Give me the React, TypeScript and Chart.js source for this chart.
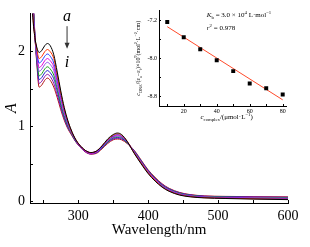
import { useEffect, useRef } from 'react';
import { Chart, registerables } from 'chart.js';

Chart.register(...registerables);

const SERIF = '"Liberation Serif", "Times New Roman", serif';

// ---------- main spectra ----------
const wavelengths = [232, 235, 238, 241, 244, 248, 252, 256, 260, 265, 270, 275, 280, 285, 290, 296, 302, 310, 318, 326, 334, 342, 350, 356, 362, 370, 380, 390, 400, 410, 420, 430, 445, 460, 480, 510, 550, 600];

const absA = [3.00, 2.45, 2.18, 2.04, 1.98, 2.01, 2.07, 2.10, 2.07, 1.95, 1.72, 1.47, 1.25, 1.08, 0.95, 0.83, 0.75, 0.68, 0.65, 0.67, 0.74, 0.83, 0.89, 0.91, 0.89, 0.80, 0.64, 0.50, 0.37, 0.27, 0.19, 0.135, 0.085, 0.062, 0.048, 0.040, 0.032, 0.025];
const absB = [3.07, 2.50, 2.18, 2.01, 1.90, 1.93, 1.99, 2.02, 1.99, 1.90, 1.68, 1.44, 1.23, 1.07, 0.94, 0.83, 0.75, 0.68, 0.65, 0.67, 0.74, 0.82, 0.88, 0.90, 0.88, 0.80, 0.645, 0.51, 0.38, 0.28, 0.195, 0.14, 0.09, 0.066, 0.051, 0.044, 0.036, 0.030];
const absC = [3.15, 2.55, 2.19, 1.98, 1.84, 1.87, 1.93, 1.96, 1.93, 1.84, 1.64, 1.41, 1.21, 1.05, 0.94, 0.82, 0.75, 0.68, 0.65, 0.67, 0.73, 0.81, 0.87, 0.89, 0.87, 0.79, 0.65, 0.51, 0.38, 0.28, 0.20, 0.145, 0.094, 0.070, 0.055, 0.047, 0.040, 0.034];
const absD = [3.22, 2.60, 2.19, 1.95, 1.78, 1.81, 1.87, 1.90, 1.87, 1.79, 1.59, 1.38, 1.19, 1.04, 0.93, 0.82, 0.74, 0.67, 0.64, 0.66, 0.73, 0.81, 0.86, 0.88, 0.86, 0.79, 0.655, 0.52, 0.39, 0.29, 0.205, 0.15, 0.098, 0.073, 0.058, 0.051, 0.044, 0.039];
const absE = [3.30, 2.65, 2.20, 1.92, 1.73, 1.76, 1.82, 1.85, 1.82, 1.74, 1.55, 1.35, 1.17, 1.03, 0.92, 0.82, 0.74, 0.67, 0.64, 0.66, 0.72, 0.80, 0.86, 0.87, 0.86, 0.79, 0.66, 0.525, 0.395, 0.295, 0.21, 0.155, 0.102, 0.077, 0.061, 0.054, 0.048, 0.044];
const absF = [3.37, 2.70, 2.20, 1.89, 1.67, 1.70, 1.76, 1.79, 1.76, 1.68, 1.51, 1.31, 1.14, 1.01, 0.91, 0.81, 0.74, 0.67, 0.64, 0.66, 0.72, 0.79, 0.85, 0.86, 0.85, 0.78, 0.665, 0.53, 0.40, 0.30, 0.215, 0.16, 0.107, 0.081, 0.065, 0.058, 0.052, 0.048];
const absG = [3.45, 2.75, 2.21, 1.86, 1.62, 1.65, 1.71, 1.74, 1.71, 1.63, 1.47, 1.28, 1.12, 1.00, 0.91, 0.81, 0.74, 0.67, 0.64, 0.65, 0.71, 0.79, 0.84, 0.85, 0.84, 0.78, 0.67, 0.54, 0.41, 0.31, 0.22, 0.165, 0.111, 0.085, 0.068, 0.061, 0.056, 0.053];
const absH = [3.52, 2.80, 2.21, 1.83, 1.57, 1.60, 1.66, 1.69, 1.66, 1.57, 1.42, 1.25, 1.10, 0.98, 0.90, 0.80, 0.73, 0.66, 0.63, 0.65, 0.71, 0.78, 0.83, 0.84, 0.83, 0.78, 0.675, 0.54, 0.41, 0.31, 0.23, 0.17, 0.116, 0.088, 0.071, 0.065, 0.060, 0.057];
const absI = [3.60, 2.85, 2.22, 1.80, 1.52, 1.55, 1.61, 1.64, 1.61, 1.52, 1.38, 1.22, 1.08, 0.97, 0.89, 0.80, 0.73, 0.66, 0.63, 0.64, 0.70, 0.77, 0.82, 0.83, 0.82, 0.77, 0.68, 0.55, 0.42, 0.32, 0.235, 0.175, 0.12, 0.092, 0.075, 0.068, 0.064, 0.062];

const seriesValues = [absA, absB, absC, absD, absE, absF, absG, absH, absI];
const seriesLabels = ['a', 'b', 'c', 'd', 'e', 'f', 'g', 'h', 'i'];
const seriesColors = ['#000000', '#ff3300', '#1e3cff', '#e000d8', '#8c50e6', '#16a016', '#2323c8', '#8a10a8', '#b01414'];

const mainXTicks = [250, 300, 350, 400, 450, 500, 550, 600];
const mainXLabels = [300, 400, 500, 600];
const mainYTicks = [0, 0.5, 1, 1.5, 2];
const mainYLabels = [0, 1, 2];

// arrow annotation (a -> i), in data units
const arrowWavelength = 284;
const arrowTextA = 2.45;
const arrowStart = 2.33;
const arrowEnd = 2.03;
const arrowTextI = 1.84;

// ---------- inset (Wolfe–Shimer fit) ----------
const cComplex = [10, 20, 30, 40, 50, 60, 70, 80];
const ratioValues = [-7.24, -7.56, -7.81, -8.04, -8.27, -8.53, -8.63, -8.76];
const insetXTicks = [10, 20, 30, 40, 50, 60, 70, 80];
const insetXLabels = [20, 40, 60, 80];
const insetYTicks = [-8.8, -8.4, -8.0, -7.6, -7.2];
const insetYLabels = [-8.8, -8.0, -7.2];
const kbExponent = '4';
const r2Value = '0.978';

type Seg = { t: string; s?: 'sub' | 'sup'; i?: boolean };

function drawRich(ctx: CanvasRenderingContext2D, segs: Seg[], x: number, y: number, size: number, align: 'left' | 'center') {
  const fontFor = (g: Seg) => `${g.i ? 'italic ' : ''}${g.s ? size * 0.68 : size}px ${SERIF}`;
  let total = 0;
  for (const g of segs) {
    ctx.font = fontFor(g);
    total += ctx.measureText(g.t).width;
  }
  let cx = align === 'center' ? x - total / 2 : x;
  ctx.textBaseline = 'alphabetic';
  ctx.textAlign = 'left';
  for (const g of segs) {
    ctx.font = fontFor(g);
    const dy = g.s === 'sub' ? size * 0.28 : g.s === 'sup' ? -size * 0.42 : 0;
    ctx.fillText(g.t, cx, y + dy);
    cx += ctx.measureText(g.t).width;
  }
}

const inwardTicks = {
  id: 'inwardTicks',
  afterDraw(chart: any, _args: any, opts: any) {
    const { ctx, chartArea } = chart;
    const len = opts?.len ?? 3;
    const xs = chart.scales.x;
    const ys = chart.scales.y;
    ctx.save();
    ctx.strokeStyle = '#000';
    ctx.lineWidth = 1;
    ctx.beginPath();
    for (const t of xs.ticks) {
      const px = Math.round(xs.getPixelForValue(t.value)) + 0.5;
      ctx.moveTo(px, chartArea.bottom);
      ctx.lineTo(px, chartArea.bottom - len);
    }
    for (const t of ys.ticks) {
      const py = Math.round(ys.getPixelForValue(t.value)) + 0.5;
      ctx.moveTo(chartArea.left, py);
      ctx.lineTo(chartArea.left + len, py);
    }
    ctx.stroke();
    ctx.restore();
  },
};

const arrowAnnotation = {
  id: 'arrowAnnotation',
  afterDraw(chart: any) {
    const { ctx } = chart;
    const xs = chart.scales.x;
    const ys = chart.scales.y;
    const px = xs.getPixelForValue(arrowWavelength);
    ctx.save();
    ctx.fillStyle = '#000';
    ctx.font = `italic 16px ${SERIF}`;
    ctx.textAlign = 'center';
    ctx.textBaseline = 'middle';
    ctx.fillText('a', px, ys.getPixelForValue(arrowTextA));
    ctx.fillText('i', px, ys.getPixelForValue(arrowTextI));
    const y1 = ys.getPixelForValue(arrowStart);
    const y2 = ys.getPixelForValue(arrowEnd);
    ctx.strokeStyle = '#333';
    ctx.lineWidth = 1;
    ctx.beginPath();
    ctx.moveTo(px, y1);
    ctx.lineTo(px, y2 - 4);
    ctx.stroke();
    ctx.fillStyle = '#333';
    ctx.beginPath();
    ctx.moveTo(px - 2.5, y2 - 6);
    ctx.lineTo(px + 2.5, y2 - 6);
    ctx.lineTo(px, y2);
    ctx.closePath();
    ctx.fill();
    ctx.restore();
  },
};

const insetTexts = {
  id: 'insetTexts',
  afterDraw(chart: any) {
    const { ctx, chartArea } = chart;
    const xs = chart.scales.x;
    const ys = chart.scales.y;
    ctx.save();
    ctx.fillStyle = '#000';
    drawRich(ctx, [
      { t: 'K', i: true }, { t: 'b', s: 'sub' }, { t: ' = 3.0 × 10' }, { t: kbExponent, s: 'sup' },
      { t: ' L·mol' }, { t: '−1', s: 'sup' },
    ], xs.getPixelForValue(34), ys.getPixelForValue(-7.13), 7, 'left');
    drawRich(ctx, [
      { t: 'r', i: true }, { t: '2', s: 'sup' }, { t: ' = ' + r2Value },
    ], xs.getPixelForValue(34), ys.getPixelForValue(-7.4), 7, 'left');
    drawRich(ctx, [
      { t: 'c', i: true }, { t: 'complex', s: 'sub' }, { t: '/(μmol·L' }, { t: '−1', s: 'sup' }, { t: ')' },
    ], xs.getPixelForValue(46), chartArea.bottom + 13, 7, 'center');
    ctx.translate(chartArea.left - 19, (chartArea.top + chartArea.bottom) / 2);
    ctx.rotate(-Math.PI / 2);
    drawRich(ctx, [
      { t: 'c', i: true }, { t: 'DNA', s: 'sub' }, { t: '/(ε' }, { t: 'a', s: 'sub' }, { t: '−ε' }, { t: 'f', s: 'sub' },
      { t: ')×10' }, { t: '9', s: 'sup' }, { t: '(mol' }, { t: '2', s: 'sup' }, { t: '·L' }, { t: '−2', s: 'sup' }, { t: '·cm)' },
    ], 0, 0, 6, 'center');
    ctx.restore();
  },
};

function linearFit(xs: number[], ys: number[]) {
  const n = xs.length;
  const mx = xs.reduce((a, b) => a + b, 0) / n;
  const my = ys.reduce((a, b) => a + b, 0) / n;
  let sxy = 0;
  let sxx = 0;
  for (let i = 0; i < n; i++) {
    sxy += (xs[i] - mx) * (ys[i] - my);
    sxx += (xs[i] - mx) * (xs[i] - mx);
  }
  const slope = sxy / sxx;
  return { slope, intercept: my - slope * mx };
}

const isIn = (arr: number[], v: number) => arr.some((t) => Math.abs(t - v) < 1e-6);

export default function App() {
  const mainRef = useRef<HTMLCanvasElement>(null);
  const insetRef = useRef<HTMLCanvasElement>(null);

  useEffect(() => {
    const mainChart = new Chart(mainRef.current as HTMLCanvasElement, {
      type: 'line',
      data: {
        datasets: seriesValues.map((vals, k) => ({
          label: seriesLabels[k],
          data: wavelengths.map((w, i) => ({ x: w, y: vals[i] })),
          borderColor: seriesColors[k],
          borderWidth: 1,
          pointRadius: 0,
          cubicInterpolationMode: 'monotone' as const,
          fill: false,
        })),
      },
      options: {
        responsive: false,
        animation: false,
        devicePixelRatio: 1,
        events: [],
        layout: { padding: { left: 0, top: 12, right: 22, bottom: 0 } },
        plugins: { legend: { display: false }, tooltip: { enabled: false }, inwardTicks: { len: 3 } },
        scales: {
          x: {
            type: 'linear',
            min: 231,
            max: 600,
            grid: { display: false, drawTicks: false },
            border: { display: true, color: '#000', width: 1 },
            afterBuildTicks: (s: any) => { s.ticks = mainXTicks.map((v) => ({ value: v })); },
            afterFit: (s: any) => { s.height = 44; },
            ticks: {
              color: '#000',
              font: { family: SERIF, size: 14 },
              padding: 5,
              autoSkip: false,
              maxRotation: 0,
              callback: (v: any) => (isIn(mainXLabels, v) ? String(v) : ''),
            },
            title: {
              display: true,
              text: 'Wavelength/nm',
              color: '#000',
              font: { family: SERIF, size: 15 },
              padding: { top: 0, bottom: 8 },
            },
          },
          y: {
            type: 'linear',
            min: -0.02,
            max: 2.5,
            grid: { display: false, drawTicks: false },
            border: { display: true, color: '#000', width: 1 },
            afterBuildTicks: (s: any) => { s.ticks = mainYTicks.map((v) => ({ value: v })); },
            afterFit: (s: any) => { s.width = 30; },
            ticks: {
              color: '#000',
              font: { family: SERIF, size: 14 },
              padding: 5,
              autoSkip: false,
              callback: (v: any) => (isIn(mainYLabels, v) ? String(v) : ''),
            },
            title: {
              display: true,
              text: 'A',
              color: '#000',
              font: { family: SERIF, size: 16, style: 'italic' },
              padding: { top: 2, bottom: 0 },
            },
          },
        },
      },
      plugins: [inwardTicks, arrowAnnotation],
    } as any);

    const fit = linearFit(cComplex, ratioValues);
    const fitStart = cComplex[0];
    const fitEnd = cComplex[cComplex.length - 1];

    const insetChart = new Chart(insetRef.current as HTMLCanvasElement, {
      type: 'scatter',
      data: {
        datasets: [
          {
            data: cComplex.map((c, i) => ({ x: c, y: ratioValues[i] })),
            pointStyle: 'rect',
            pointRadius: 2.8,
            backgroundColor: '#000',
            borderColor: '#000',
            borderWidth: 0,
          },
          {
            type: 'line',
            data: [
              { x: fitStart, y: fit.intercept + fit.slope * fitStart },
              { x: fitEnd, y: fit.intercept + fit.slope * fitEnd },
            ],
            showLine: true,
            borderColor: '#ff4a2a',
            borderWidth: 1,
            pointRadius: 0,
          },
        ],
      },
      options: {
        responsive: false,
        animation: false,
        devicePixelRatio: 1,
        events: [],
        layout: { padding: { left: 0, top: 10.5, right: 14, bottom: 0 } },
        plugins: { legend: { display: false }, tooltip: { enabled: false }, inwardTicks: { len: 2 } },
        scales: {
          x: {
            type: 'linear',
            min: 5,
            max: 82,
            grid: { display: false, drawTicks: false },
            border: { display: true, color: '#000', width: 1 },
            afterBuildTicks: (s: any) => { s.ticks = insetXTicks.map((v) => ({ value: v })); },
            afterFit: (s: any) => { s.height = 20; },
            ticks: {
              color: '#000',
              font: { family: SERIF, size: 6 },
              padding: 2,
              autoSkip: false,
              maxRotation: 0,
              callback: (v: any) => (isIn(insetXLabels, v) ? String(v) : ''),
            },
          },
          y: {
            type: 'linear',
            min: -9,
            max: -7,
            grid: { display: false, drawTicks: false },
            border: { display: true, color: '#000', width: 1 },
            afterBuildTicks: (s: any) => { s.ticks = insetYTicks.map((v) => ({ value: v })); },
            afterFit: (s: any) => { s.width = 39; },
            ticks: {
              color: '#000',
              font: { family: SERIF, size: 6 },
              padding: 2,
              autoSkip: false,
              callback: (v: any) => (isIn(insetYLabels, v) ? Number(v).toFixed(1) : ''),
            },
          },
        },
      },
      plugins: [inwardTicks, insetTexts],
    } as any);

    return () => {
      mainChart.destroy();
      insetChart.destroy();
    };
  }, []);

  return (
    <div style={{ position: 'fixed', left: 0, top: 0, width: 310, height: 247, background: '#fff' }}>
      <canvas ref={mainRef} width={310} height={247} style={{ position: 'absolute', left: 0, top: 0 }} />
      <canvas ref={insetRef} width={180} height={126} style={{ position: 'absolute', left: 120, top: 0 }} />
    </div>
  );
}
